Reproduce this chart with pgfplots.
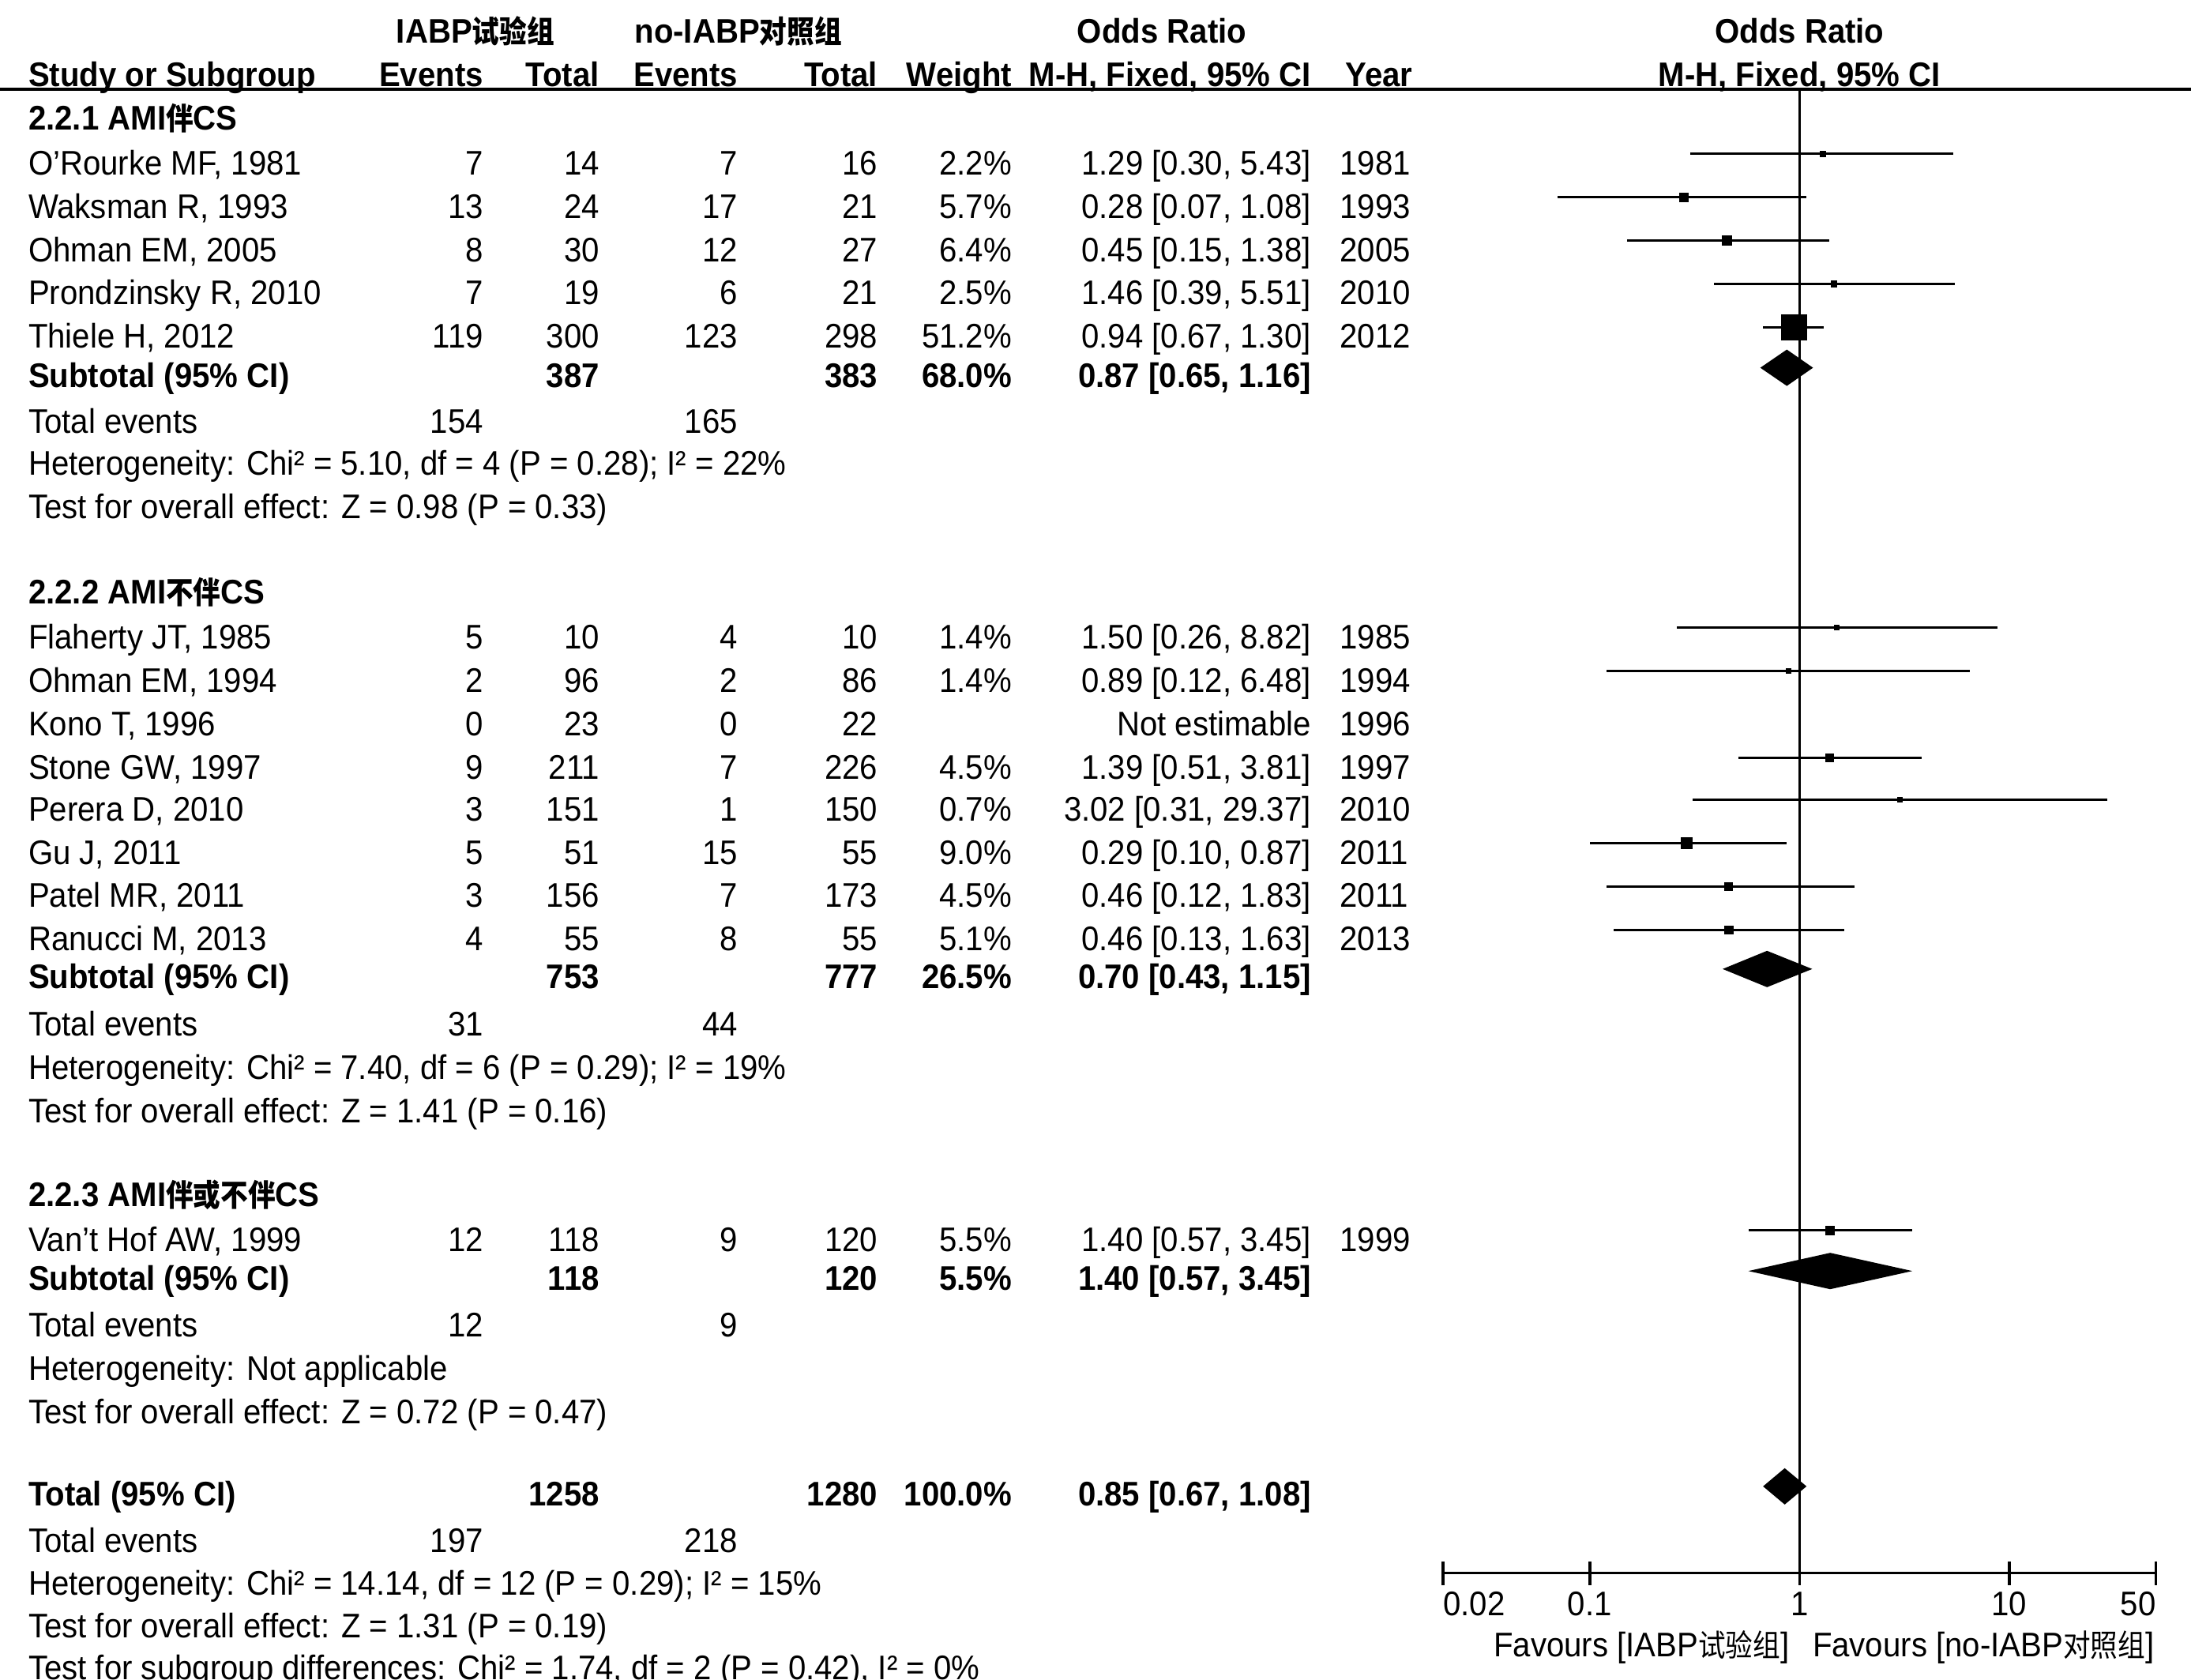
\documentclass[border=0pt]{standalone}
\usepackage{fontspec}
\setmainfont[FakeStretch=0.93]{Liberation Sans}
\newfontfamily\cjk[FakeStretch=0.89]{Noto Sans CJK SC}
\usepackage{pgfplots}
\usepackage{pgfplotstable}
\pgfplotsset{compat=1.18}

\newcommand\zh[1]{{\cjk\fontsize{11pt}{12pt}\selectfont #1}}

% row y (px from top), odds ratio, CI, weight (%)
\pgfplotstableread{
y   or   lo   hi    w
116 1.29 0.30 5.43  2.2
147 0.28 0.07 1.08  5.7
178 0.45 0.15 1.38  6.4
209 1.46 0.39 5.51  2.5
240 0.94 0.67 1.30  51.2
}\groupA
\pgfplotstableread{
y   or   lo   hi    w
455 1.50 0.26 8.82  1.4
486 0.89 0.12 6.48  1.4
548 1.39 0.51 3.81  4.5
578 3.02 0.31 29.37 0.7
609 0.29 0.10 0.87  9.0
640 0.46 0.12 1.83  4.5
671 0.46 0.13 1.63  5.1
}\groupB
\pgfplotstableread{
y   or   lo   hi    w
886 1.40 0.57 3.45  5.5
}\groupC

\newcommand\study[9]{%
  \node[L] at (20,#1+9) {#2};
  \node[R] at (346,#1+9) {#3};
  \node[R] at (429,#1+9) {#4};
  \node[R] at (528,#1+9) {#5};
  \node[R] at (628,#1+9) {#6};
  \node[R] at (724,#1+9) {#7};
  \node[R] at (938,#1+9) {#8};
  \node[L] at (958,#1+9) {#9};}
\newcommand\subtot[6]{%
  \node[L] at (20,#1+9) {\bfseries #2};
  \node[R] at (429,#1+9) {\bfseries #3};
  \node[R] at (628,#1+9) {\bfseries #4};
  \node[R] at (724,#1+9) {\bfseries #5};
  \node[R] at (938,#1+9) {\bfseries #6};}
\newcommand\events[3]{%
  \node[L] at (20,#1+9) {Total events};
  \node[R] at (346,#1+9) {#2};
  \node[R] at (528,#1+9) {#3};}
\newcommand\txtline[2]{\node[L] at (20,#1+9) {#2};}

\pgfplotsset{forest/.style={
  black, only marks, mark=square*, scatter,
  scatter/use mapped color={draw=black,fill=black},
  visualization depends on={\thisrow{w} \as \wt},
  scatter/@pre marker code/.append style={/tikz/mark size={0.5*max(1.6,9*sqrt(\wt/51.2))}},
  error bars/.cd, x dir=both, x explicit, error mark=none,
  error bar style={line width=0.9pt, black}}}

\begin{document}
\fontsize{12.2pt}{14pt}\selectfont
\begin{tikzpicture}[x=0.5pt, y=-0.5pt,
  L/.style={anchor=base west, inner sep=0pt},
  R/.style={anchor=base east, inner sep=0pt},
  C/.style={anchor=base, inner sep=0pt}]
\useasboundingbox (0,0) rectangle (1567,1201);

% header
\node[C] at (340,31) {\bfseries IABP\zh{试验组}};
\node[C] at (528,31) {\bfseries no-IABP\zh{对照组}};
\node[C] at (831,31) {\bfseries Odds Ratio};
\node[C] at (1287,31) {\bfseries Odds Ratio};
\node[L] at (20,62) {\bfseries Study or Subgroup};
\node[R] at (346,62) {\bfseries Events};
\node[R] at (429,62) {\bfseries Total};
\node[R] at (528,62) {\bfseries Events};
\node[R] at (628,62) {\bfseries Total};
\node[R] at (724,62) {\bfseries Weight};
\node[R] at (938,62) {\bfseries M-H, Fixed, 95\% CI};
\node[L] at (962,62) {\bfseries Year};
\node[C] at (1287,62) {\bfseries M-H, Fixed, 95\% CI};
\draw[line width=1.2pt] (0,64) -- (1567,64);

% 2.2.1
\txtline{84}{\bfseries 2.2.1 AMI\zh{伴}CS}
\study{116}{O'Rourke MF, 1981}{7}{14}{7}{16}{2.2\%}{1.29 [0.30, 5.43]}{1981}
\study{147}{Waksman R, 1993}{13}{24}{17}{21}{5.7\%}{0.28 [0.07, 1.08]}{1993}
\study{178}{Ohman EM, 2005}{8}{30}{12}{27}{6.4\%}{0.45 [0.15, 1.38]}{2005}
\study{209}{Prondzinsky R, 2010}{7}{19}{6}{21}{2.5\%}{1.46 [0.39, 5.51]}{2010}
\study{240}{Thiele H, 2012}{119}{300}{123}{298}{51.2\%}{0.94 [0.67, 1.30]}{2012}
\subtot{268}{Subtotal (95\% CI)}{387}{383}{68.0\%}{0.87 [0.65, 1.16]}
\events{301}{154}{165}
\txtline{331}{Heterogeneity: Chi² = 5.10, df = 4 (P = 0.28); I² = 22\%}
\txtline{362}{Test for overall effect: Z = 0.98 (P = 0.33)}

% 2.2.2
\txtline{423}{\bfseries 2.2.2 AMI\zh{不伴}CS}
\study{455}{Flaherty JT, 1985}{5}{10}{4}{10}{1.4\%}{1.50 [0.26, 8.82]}{1985}
\study{486}{Ohman EM, 1994}{2}{96}{2}{86}{1.4\%}{0.89 [0.12, 6.48]}{1994}
\study{517}{Kono T, 1996}{0}{23}{0}{22}{}{Not estimable}{1996}
\study{548}{Stone GW, 1997}{9}{211}{7}{226}{4.5\%}{1.39 [0.51, 3.81]}{1997}
\study{578}{Perera D, 2010}{3}{151}{1}{150}{0.7\%}{3.02 [0.31, 29.37]}{2010}
\study{609}{Gu J, 2011}{5}{51}{15}{55}{9.0\%}{0.29 [0.10, 0.87]}{2011}
\study{640}{Patel MR, 2011}{3}{156}{7}{173}{4.5\%}{0.46 [0.12, 1.83]}{2011}
\study{671}{Ranucci M, 2013}{4}{55}{8}{55}{5.1\%}{0.46 [0.13, 1.63]}{2013}
\subtot{698}{Subtotal (95\% CI)}{753}{777}{26.5\%}{0.70 [0.43, 1.15]}
\events{732}{31}{44}
\txtline{763}{Heterogeneity: Chi² = 7.40, df = 6 (P = 0.29); I² = 19\%}
\txtline{794}{Test for overall effect: Z = 1.41 (P = 0.16)}

% 2.2.3
\txtline{854}{\bfseries 2.2.3 AMI\zh{伴或不伴}CS}
\study{886}{Van't Hof AW, 1999}{12}{118}{9}{120}{5.5\%}{1.40 [0.57, 3.45]}{1999}
\subtot{914}{Subtotal (95\% CI)}{118}{120}{5.5\%}{1.40 [0.57, 3.45]}
\events{947}{12}{9}
\txtline{978}{Heterogeneity: Not applicable}
\txtline{1009}{Test for overall effect: Z = 0.72 (P = 0.47)}

% overall
\subtot{1068}{Total (95\% CI)}{1258}{1280}{100.0\%}{0.85 [0.67, 1.08]}
\events{1101}{197}{218}
\txtline{1132}{Heterogeneity: Chi² = 14.14, df = 12 (P = 0.29); I² = 15\%}
\txtline{1162}{Test for overall effect: Z = 1.31 (P = 0.19)}
\txtline{1192}{Test for subgroup differences: Chi² = 1.74, df = 2 (P = 0.42), I² = 0\%}

\node[R] at (1280,1185) {Favours [IABP\zh{试验组}]};
\node[L] at (1296,1185) {Favours [no-IABP\zh{对照组}]};

\begin{axis}[
  at={(516.075pt,-562.5pt)}, anchor=south west,
  scale only axis, width=254.85pt, height=530.5pt,
  xmode=log, xmin=0.02, xmax=50, ymin=-1125, ymax=-64,
  axis x line*=bottom, axis y line=none,
  xtick={0.02,0.1,1,10,50},
  xticklabels={\makebox[0pt][l]{0.02},0.1,1,10,\makebox[0pt][r]{50}},
  xminorticks=false, tick align=center, major tick length=8.5pt,
  every tick/.style={black, line width=1pt},
  axis line style={black, line width=1pt},
  xticklabel style={anchor=base, inner sep=0pt, yshift=-11pt},
  /pgf/number format/assume math mode=true,
  clip=false]
\addplot[black, line width=0.8pt] coordinates {(1,-64) (1,-1125)};
\addplot[forest] table[x=or, y expr=6-\thisrow{y},
  x error plus expr=\thisrow{hi}-\thisrow{or},
  x error minus expr=\thisrow{or}-\thisrow{lo}] {\groupA};
\addplot[forest] table[x=or, y expr=6-\thisrow{y},
  x error plus expr=\thisrow{hi}-\thisrow{or},
  x error minus expr=\thisrow{or}-\thisrow{lo}] {\groupB};
\addplot[forest] table[x=or, y expr=6-\thisrow{y},
  x error plus expr=\thisrow{hi}-\thisrow{or},
  x error minus expr=\thisrow{or}-\thisrow{lo}] {\groupC};
% pooled diamonds
\addplot[fill=black, draw=none] coordinates {(0.65,-263) (0.87,-250) (1.16,-263) (0.87,-276) (0.65,-263)};
\addplot[fill=black, draw=none] coordinates {(0.43,-693) (0.70,-680) (1.15,-693) (0.70,-706) (0.43,-693)};
\addplot[fill=black, draw=none] coordinates {(0.57,-909) (1.40,-896) (3.45,-909) (1.40,-922) (0.57,-909)};
\addplot[fill=black, draw=none] coordinates {(0.67,-1063) (0.85,-1050) (1.08,-1063) (0.85,-1076) (0.67,-1063)};
\end{axis}
\end{tikzpicture}
\end{document}
